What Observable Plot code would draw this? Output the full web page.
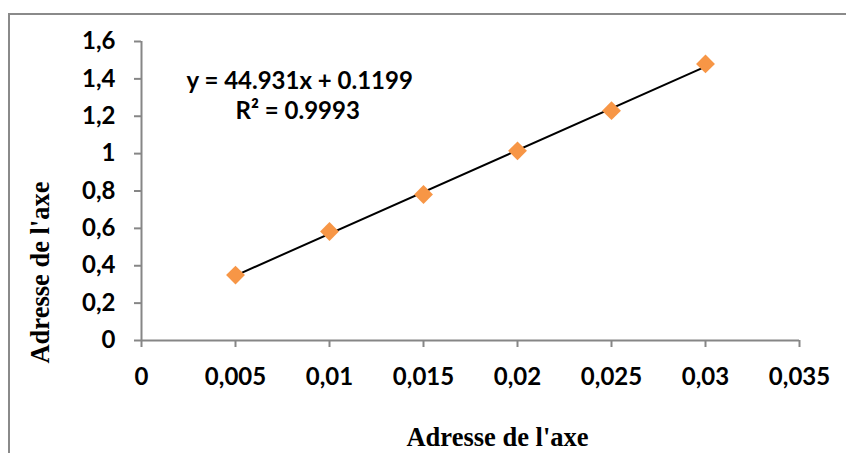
<!DOCTYPE html>
<html>
<head>
<meta charset="utf-8">
<script src="https://cdn.jsdelivr.net/npm/d3@7"></script>
<script src="https://cdn.jsdelivr.net/npm/@observablehq/plot@0.6"></script>
<style>
  html, body { margin: 0; padding: 0; background: #fff; }
  #wrap { position: relative; width: 846px; height: 453px; overflow: hidden; }
  #frame { position: absolute; left: 8px; top: 13px; width: 900px; height: 500px;
           border-top: 2px solid #8a8a8a; border-left: 2px solid #8a8a8a; pointer-events: none; }
  svg { position: absolute; left: 0; top: 0; }
</style>
</head>
<body>
<div id="wrap"><div id="frame"></div></div>
<script>
const concentrations = [0.005, 0.01, 0.015, 0.02, 0.025, 0.03];
const absorbances = [0.35, 0.583, 0.781, 1.015, 1.23, 1.48];
const xTicks = [0, 0.005, 0.01, 0.015, 0.02, 0.025, 0.03, 0.035];
const yTicks = [0, 0.2, 0.4, 0.6, 0.8, 1, 1.2, 1.4, 1.6];
const equationLines = ["y = 44.931x + 0.1199", "R² = 0.9993"];
const xTitle = "Adresse de l'axe";
const yTitle = "Adresse de l'axe";

const data = concentrations.map((x, i) => ({x, y: absorbances[i]}));
const fmt = d => String(+d.toFixed(4)).replace(".", ",");
const axisGray = "#868686";
const tickFont = "Lato, 'Open Sans', sans-serif";
const serif = "'Liberation Serif', 'Times New Roman', serif";

const chart = Plot.plot({
  width: 846,
  height: 453,
  marginLeft: 141,
  marginRight: 47,
  marginTop: 41,
  marginBottom: 113,
  style: { fontFamily: tickFont, background: "transparent", overflow: "visible" },
  x: { domain: [0, 0.035] },
  y: { domain: [0, 1.6] },
  marks: [
    Plot.ruleY([0], { stroke: axisGray, strokeWidth: 2 }),
    Plot.ruleX([0], { stroke: axisGray, strokeWidth: 2 }),
    Plot.axisX({ ticks: xTicks, tickFormat: fmt, tickSize: 7, tickPadding: 20, stroke: axisGray, strokeWidth: 2,
                 fill: "#000", fontSize: 24, fontWeight: "bold", label: null }),
    Plot.axisY({ ticks: yTicks, tickFormat: fmt, tickSize: 7, tickPadding: 19, stroke: axisGray, strokeWidth: 2,
                 fill: "#000", fontSize: 24, fontWeight: "bold", label: null }),
    Plot.linearRegressionY(data, { x: "x", y: "y", ci: 0, stroke: "#000", strokeWidth: 2 }),
    Plot.dot(data, { x: "x", y: "y", symbol: "diamond2", r: 8.5, fill: "#F79646", stroke: "none" }),
    Plot.text([equationLines[0]], { frameAnchor: "top-left", dx: 45, dy: 40, textAnchor: "start", lineAnchor: "middle",
                 fontSize: 24, fontWeight: "bold", fill: "#000" }),
    Plot.text([equationLines[1]], { frameAnchor: "top-left", dx: 94, dy: 70, textAnchor: "start", lineAnchor: "middle",
                 fontSize: 24, fontWeight: "bold", fill: "#000" }),
    Plot.text([xTitle], { frameAnchor: "bottom", dx: 27, dy: 97, lineAnchor: "middle",
                 fontFamily: serif, fontSize: 26.5, fontWeight: "bold", fill: "#000" }),
    Plot.text([yTitle], { frameAnchor: "left", dx: -101, dy: 81.5, rotate: -90, textAnchor: "middle", lineAnchor: "middle",
                 fontFamily: serif, fontSize: 26.5, fontWeight: "bold", fill: "#000" })
  ]
});
document.getElementById("wrap").insertBefore(chart, document.getElementById("frame"));
</script>
</body>
</html>
